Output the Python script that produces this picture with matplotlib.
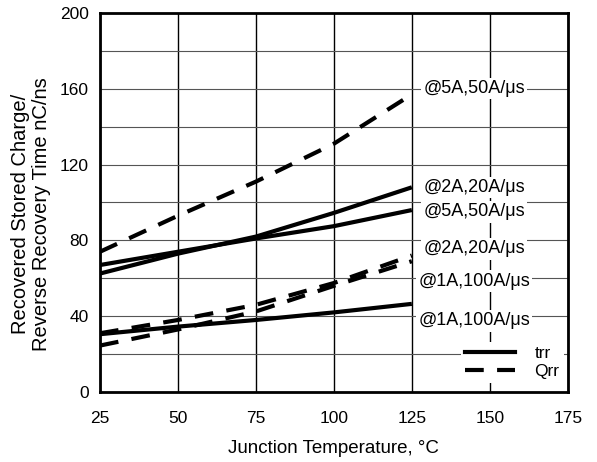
import matplotlib
matplotlib.use("Agg")
import matplotlib.pyplot as plt
from matplotlib.ticker import MultipleLocator

plt.rcParams['font.family'] = ['Liberation Sans', 'DejaVu Sans']

temps = [25, 50, 75, 100, 125]

# trr curves (solid)
trr_2a20 = [62.5, 73, 82, 94.5, 108]
trr_5a50 = [67, 74, 81, 87.5, 96]
trr_1a100 = [30.5, 34.5, 38, 42, 46.5]

# Qrr curves (dashed)
qrr_5a50 = [74, 93, 111, 131, 157]
qrr_2a20 = [31, 38, 46, 57.5, 72]
qrr_1a100 = [24.5, 33, 42.5, 56, 69]

label_text = ['@5A,50A/\u03bcs', '@2A,20A/\u03bcs', '@5A,50A/\u03bcs',
              '@2A,20A/\u03bcs', '@1A,100A/\u03bcs', '@1A,100A/\u03bcs']
label_y = [160, 108, 95, 75.5, 58.5, 37.5]

fig = plt.figure(figsize=(5.97, 4.62), dpi=100)
ax = fig.add_axes([0.1675, 0.1515, 0.7835, 0.8205])

ax.set_xlim(25, 175)
ax.set_ylim(0, 200)
ax.xaxis.set_major_locator(MultipleLocator(25))
ax.yaxis.set_major_locator(MultipleLocator(40))
ax.yaxis.set_minor_locator(MultipleLocator(20))
ax.grid(True, axis='x', color='black', lw=1.0)
ax.grid(True, axis='y', which='both', color='#555555', lw=0.8)
ax.set_axisbelow(True)
ax.tick_params(which='both', length=0, labelsize=12.5)
ax.tick_params(axis='x', pad=14)
ax.tick_params(axis='y', pad=8)

lw = 3
dash = (0, (4.5, 3.2))
ax.plot(temps, trr_2a20, color='black', lw=lw, solid_capstyle='butt')
ax.plot(temps, trr_5a50, color='black', lw=lw, solid_capstyle='butt')
ax.plot(temps, trr_1a100, color='black', lw=lw, solid_capstyle='butt')
ax.plot(temps, qrr_5a50, color='black', lw=lw, ls=dash)
ax.plot(temps, qrr_2a20, color='black', lw=lw, ls=dash)
ax.plot(temps, qrr_1a100, color='black', lw=lw, ls=dash)

for t, y in zip(label_text, label_y):
    ax.text(145, y, t, ha='center', va='center', fontsize=13,
            bbox=dict(facecolor='white', edgecolor='none', pad=1.5))

ax.plot([], [], color='black', lw=lw, label='trr')
ax.plot([], [], color='black', lw=lw, ls=dash, label='Qrr')
h, l = ax.get_legend_handles_labels()
leg = ax.legend(h[-2:], l[-2:], loc='lower right', bbox_to_anchor=(1.01, 0.0),
                frameon=True, fontsize=12.5, handlelength=2.9, labelspacing=0.15,
                borderpad=0.25, handletextpad=1.1)
leg.get_frame().set_edgecolor('none')
leg.get_frame().set_facecolor('white')
leg.get_frame().set_alpha(1)

for s in ax.spines.values():
    s.set_linewidth(2)

ax.set_xlabel('Junction Temperature, \u00b0C', fontsize=13.5, labelpad=10)
ax.set_ylabel('Recovered Stored Charge/\nReverse Recovery Time nC/ns', fontsize=14.5,
              linespacing=1.1)
ax.yaxis.set_label_coords(-0.105, 0.47)

fig.savefig('out.png', dpi=100)
